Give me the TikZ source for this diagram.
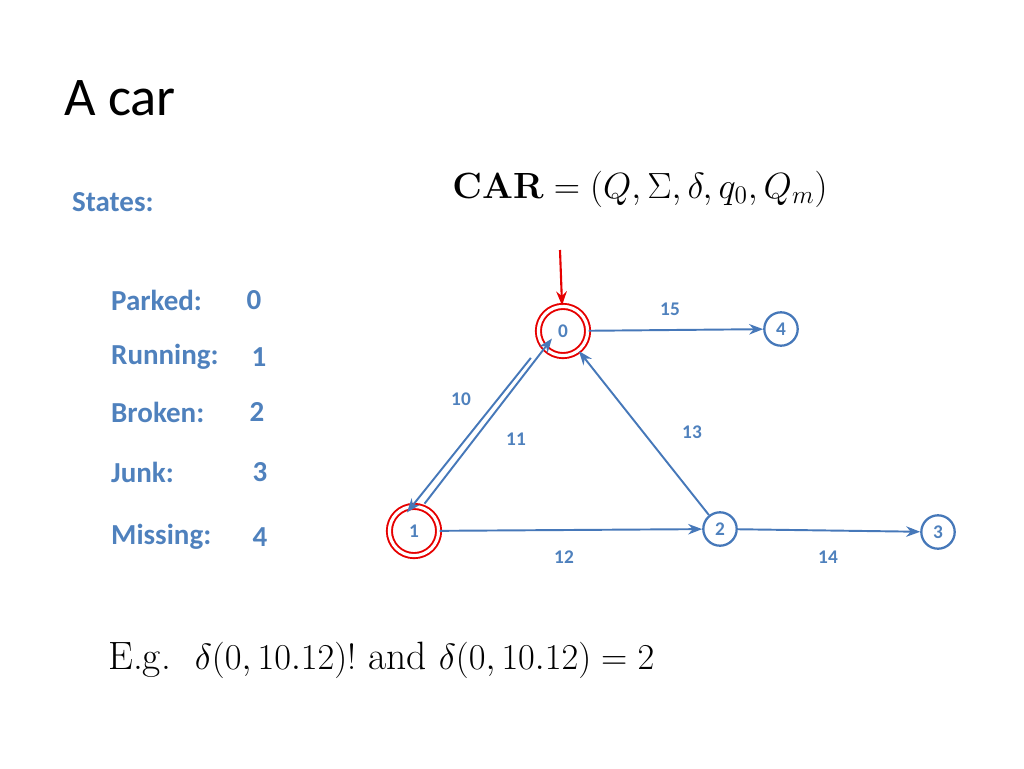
\documentclass[tikz,border=0pt]{standalone}
\usepackage[no-math]{fontspec}
\setmainfont{Carlito}
\newfontfamily\lmfont{Latin Modern Roman}
\usetikzlibrary{arrows.meta}
\definecolor{txtblue}{RGB}{79,129,189}
\definecolor{edgeblue}{RGB}{70,120,185}
\definecolor{initred}{RGB}{230,0,0}
\tikzset{
  state/.style={circle, draw=edgeblue, line width=1.3pt, minimum size=36pt, inner sep=0pt, font=\fontsize{11}{11}\selectfont\bfseries, text=txtblue},
  marked/.style={state, draw=initred, double=white, double distance=1.8pt, line width=1.1pt, minimum size=28pt},
  edge/.style={-{Stealth[length=8pt,width=6pt]}, draw=edgeblue, line width=1.1pt},
  elabel/.style={font=\fontsize{11}{11}\selectfont\bfseries, text=txtblue},
  legend/.style={anchor=west, font=\fontsize{16.5}{16.5}\selectfont\bfseries, text=txtblue}
}
\begin{document}
\begin{tikzpicture}[x=0.02cm, y=-0.02cm]
			\useasboundingbox (0,0) rectangle (1024,768);
			% Title and formula
			\node[anchor=west, font=\fontsize{31}{31}\selectfont] (title) at (58,98) {A car};
			\node[font=\fontsize{20}{20}\selectfont\lmfont] (formula) at (640,189) {$\mathbf{CAR}=(Q,\Sigma,\delta,q_0,Q_m)$};
			\node[anchor=west, font=\fontsize{22.5}{22.5}\selectfont\lmfont] (example) at (102,660) {E.g.\ \ $\delta(0,10.12)!$ and $\delta(0,10.12)=2$};
			
			% Legend
			\node[legend] (states) at (66,202) {States:};
			\foreach \i/\name/\y/\num/\x in {1/Parked:/300/0/254, 2/Running:/357/1/259, 3/Broken:/412/2/257, 4/Junk:/472/3/260, 5/Missing:/537/4/260} {
				\node[legend] (leg\i) at (105,\y) {\name};
				\node[legend, anchor=center] (num\i) at (\x,\y) {\num};
			}
			
			% States
			\node[marked] (s0) at (563,331) {0};
			\node[marked] (s1) at (414,531) {1};
			\node[state, minimum size=19pt] (s4) at (781,329) {4};
			\node[state, minimum size=19pt] (s2) at (720,529) {2};
			\node[state, minimum size=19pt] (s3) at (938,532) {3};
			\coordinate (init) at (560,250);
			
			% Transitions
			\draw[-{Stealth[length=8pt,width=6pt]}, draw=initred, line width=1.2pt] (init) -- (s0);
			\draw[edge] ([xshift=-8pt,yshift=-5pt]s0.south west) -- ([xshift=-4pt,yshift=-4pt]s1.north);
			\draw[edge] ([xshift=6pt,yshift=1pt]s1.north) -- ([xshift=4pt,yshift=6pt]s0.south west);
			\draw[edge] (s0) -- (s4);
			\draw[edge] (s1) -- (s2);
			\draw[edge] (s2) -- (s0);
			\draw[edge] (s2) -- (s3);
			
			% Labels
			\foreach \t/\x/\y in {15/670/309, 10/461/399, 11/516/439, 13/692/432, 12/564/557, 14/828/557} {
				\node[elabel] (lab\t) at (\x,\y) {\t};
			}
		\end{tikzpicture}
\end{document}
